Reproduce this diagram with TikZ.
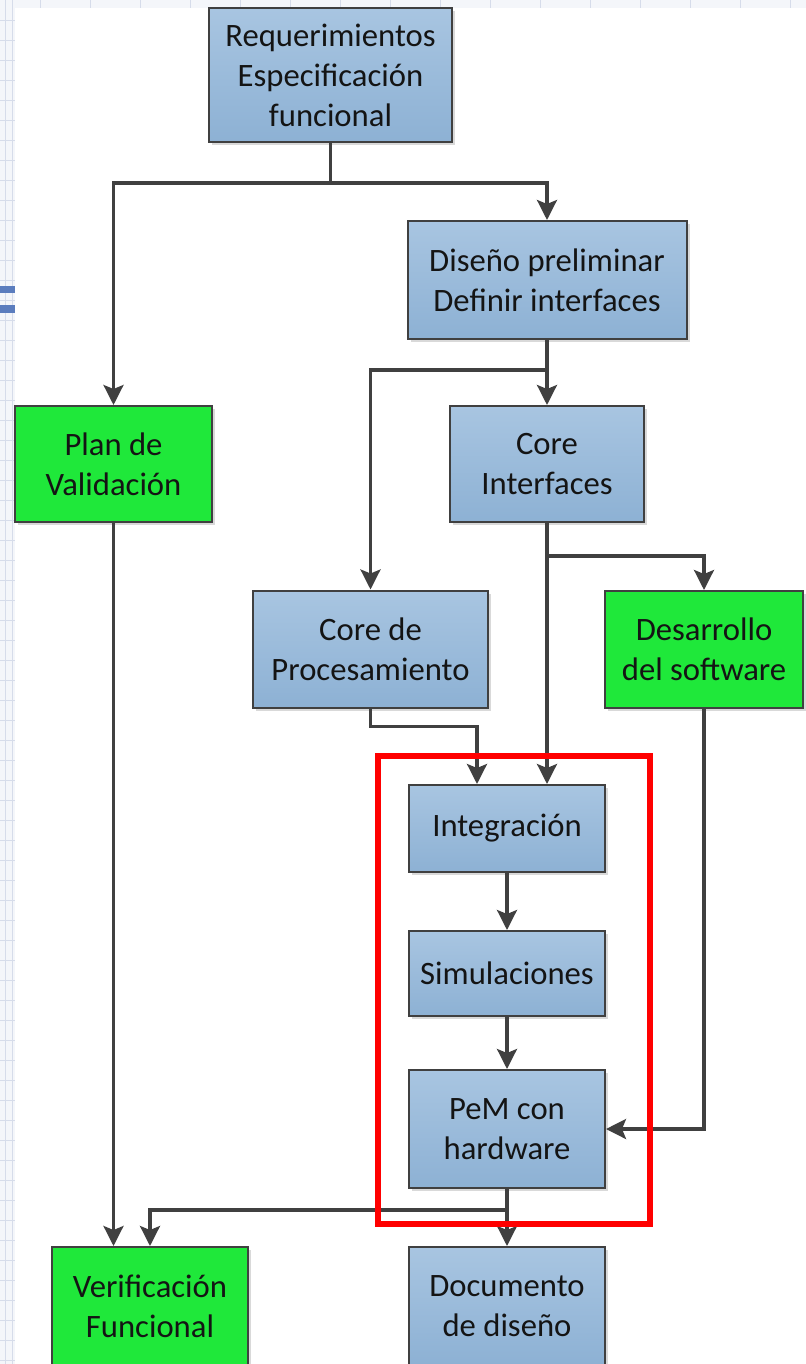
\documentclass[tikz,border=0pt]{standalone}
\usepackage{fontspec}
\setmainfont{Carlito}
\usetikzlibrary{arrows.meta,calc,shadows}
\definecolor{bluetop}{RGB}{168,197,225}
\definecolor{bluebot}{RGB}{141,177,212}
\definecolor{boxgreen}{RGB}{31,232,58}
\definecolor{linegray}{RGB}{64,64,64}
\definecolor{txt}{RGB}{20,20,20}
\definecolor{stripbg}{RGB}{244,246,250}
\definecolor{stripline}{RGB}{214,220,234}
\definecolor{barblue}{RGB}{91,125,190}
\tikzset{
  sz/.style 2 args={minimum width=#1*0.75pt, minimum height=#2*0.75pt},
  base/.style={draw=linegray, line width=1.5pt, align=center, text=txt,
    font=\fontsize{24.5}{30}\selectfont, inner sep=0pt,
    drop shadow={shadow xshift=2.5pt, shadow yshift=-2.5pt, fill=black, opacity=0.15}},
  bluebox/.style={base, top color=bluetop, bottom color=bluebot},
  greenbox/.style={base, fill=boxgreen},
  conn/.style={draw=linegray, line width=2.4pt, -{Stealth[length=15pt,width=15pt,inset=3pt]}},
  frame/.style={draw=red, line width=4.2pt},
}
\begin{document}
\begin{tikzpicture}[x=0.75pt,y=-0.75pt]
\useasboundingbox (0,0) rectangle (806,1364);
% background strips
\fill[stripbg] (0,0) rectangle (15,1364);
\fill[stripbg] (0,0) rectangle (806,8);
\foreach \y in {20,40,...,1360} \draw[stripline, line width=0.4pt] (0,\y) -- (15,\y);
\foreach \x in {5,12} \draw[stripline, line width=0.3pt] (\x,0) -- (\x,1364);
\foreach \x in {40,90,...,800} \draw[stripline, line width=0.4pt] (\x,0) -- (\x,8);
\fill[barblue] (0,286) rectangle (15,293);
\fill[barblue] (0,305) rectangle (15,313);

% nodes
\node[bluebox, sz={243}{134}] (req) at (330.5,75) {Requerimientos\\Especificación\\funcional};
\node[bluebox, sz={279}{118}] (dis) at (547,280) {Diseño preliminar\\Definir interfaces};
\node[greenbox, sz={197}{116}] (plan) at (113.5,464) {Plan de\\Validación};
\node[bluebox, sz={194}{116}] (ci) at (547,464) {Core\\Interfaces};
\node[bluebox, sz={235}{117}] (cp) at (370.5,649) {Core de\\Procesamiento};
\node[greenbox, sz={198}{117}] (des) at (704,649.5) {Desarrollo\\del software};
\node[bluebox, sz={196}{87}] (int) at (507,828.5) {Integración};
\node[bluebox, sz={196}{85}] (sim) at (507,973.5) {Simulaciones};
\node[bluebox, sz={196}{118}] (pem) at (507,1129) {PeM con\\hardware};
\node[greenbox, sz={196}{118}] (ver) at (150,1306) {Verificación\\Funcional};
\node[bluebox, sz={196}{118}] (doc) at (507,1306) {Documento\\de diseño};

% connectors
\draw[conn] (req.south) -- ++(0,40) -| (plan.north);
\draw[conn] (req.south) -- ++(0,40) -| (dis.north);
\draw[conn] (dis.south) -- (ci.north);
\draw[conn] (dis.south) -- ++(0,30) -| (cp.north);
\draw[conn] (ci.south) -- (ci.south |- int.north);
\draw[conn] (ci.south) -- ++(0,33) -| (des.north);
\coordinate (intin) at ($(int.north)+(-30,0)$);
\draw[conn] (cp.south) -- ++(0,18) -| (intin);
\draw[conn] (int.south) -- (sim.north);
\draw[conn] (sim.south) -- (pem.north);
\draw[conn] (des.south) |- (pem.east);
\draw[conn] (pem.south) -- (doc.north);
\draw[conn] (pem.south) -- ++(0,21) -| (ver.north);
\draw[conn] (plan.south) -- (plan.south |- ver.north);

% red frame
\draw[frame] (378,756) rectangle (650,1224);
\end{tikzpicture}
\end{document}
